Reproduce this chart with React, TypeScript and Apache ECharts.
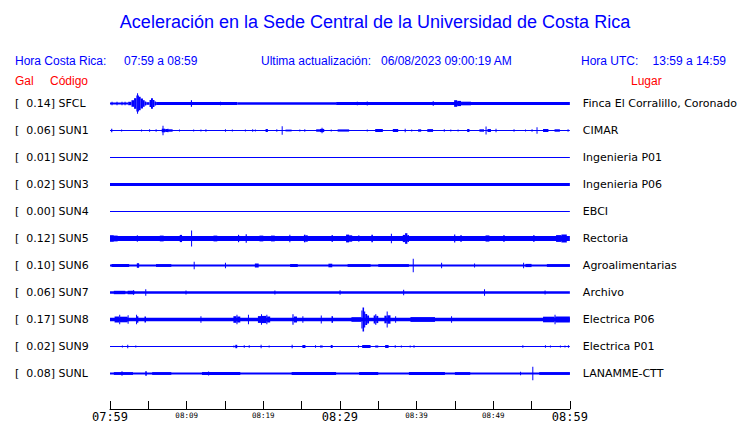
import React, { useEffect, useRef } from 'react';
import * as echarts from 'echarts';

// ---- Data ----
const codes = ['SFCL', 'SUN1', 'SUN2', 'SUN3', 'SUN4', 'SUN5', 'SUN6', 'SUN7', 'SUN8', 'SUN9', 'SUNL'];
const galValues = ['0.14', '0.06', '0.01', '0.02', '0.00', '0.12', '0.10', '0.06', '0.17', '0.02', '0.08'];
const places = [
  'Finca El Corralillo, Coronado', 'CIMAR', 'Ingenieria P01', 'Ingenieria P06', 'EBCI', 'Rectoria',
  'Agroalimentarias', 'Archivo', 'Electrica P06', 'Electrica P01', 'LANAMME-CTT',
];
const timeLabels = ['07:59', '08:09', '08:19', '08:29', '08:39', '08:49', '08:59'];
const majorTimeLabels = ['07:59', '08:29', '08:59'];

// Trace envelopes: [start minute, end minute, half amplitude]
type Seg = [number, number, number];
const traceSFCL: Seg[] = [
  [0, 2.37, 0.9], [0.2, 0.3, 1.7], [0.85, 0.95, 1.7], [1.5, 1.6, 1.7], [1.9, 2.0, 1.7],
  [2.37, 2.8, 1.7], [2.8, 3.14, 3.3], [3.14, 3.44, 5.3], [3.44, 3.53, 8], [3.53, 3.66, 10.3],
  [3.66, 3.74, 8], [3.74, 4.0, 6.7], [4.0, 4.3, 5], [4.3, 4.52, 3.3], [4.52, 4.73, 2],
  [4.73, 5.16, 1.3], [5.16, 5.35, 3.5], [5.35, 5.6, 5.2], [5.6, 5.8, 3.5], [5.8, 6.02, 2],
  [6.02, 16.6, 1.5], [16.6, 29.5, 1.2], [29.5, 60, 1.5],
  [10.55, 10.7, 3.3], [14.35, 14.45, 1.8], [32.2, 32.35, 1.8], [33.5, 33.6, 2],
  [42.1, 42.25, 2.3], [44.9, 45.3, 3.3], [45.3, 45.8, 2.6], [45.8, 47.1, 1.8],
];
const traceSUN1: Seg[] = [
  [0, 60, 0.5],
  [0.15, 0.3, 1.7], [1.45, 1.55, 1], [4.05, 4.15, 1], [5.1, 5.2, 1.3], [5.95, 6.05, 1.3],
  [6.75, 7.2, 1.8], [7.2, 7.6, 1.5], [7.6, 8.17, 1.2], [6.85, 6.95, 4.7], [7.5, 7.6, 1.7],
  [9.0, 9.1, 1], [10.85, 10.95, 1],
  [11.8, 11.9, 1], [12.45, 12.55, 1.3], [15.0, 15.1, 1.3], [15.9, 16.0, 1], [17.6, 17.7, 1],
  [18.55, 18.65, 1.3], [18.9, 19.0, 1], [20.3, 20.6, 1.5], [21.7, 21.8, 1.3], [22.4, 22.5, 4.3],
  [22.9, 23.7, 0.9], [24.7, 24.8, 1], [25.35, 25.45, 1.3], [26.9, 27.4, 1.2], [27.4, 27.95, 1.6],
  [27.6, 27.7, 2.7],
  [28.8, 28.9, 1], [29.7, 31.2, 1.1], [33.5, 33.6, 1], [34.6, 35.6, 1.5], [36.9, 37.6, 1.5],
  [38.45, 38.55, 1.7], [39.3, 39.4, 1], [40.2, 40.6, 1.2], [41.4, 42.15, 1.4], [43.55, 43.65, 1.3],
  [44.4, 44.5, 1], [45.35, 45.45, 1], [46.6, 46.9, 1.5], [48.2, 48.8, 1.2], [49.0, 49.1, 4],
  [49.25, 49.7, 1.5], [50.3, 50.4, 1.7], [52.65, 52.75, 1.3], [54.15, 54.25, 1], [55.0, 55.1, 1.3],
  [55.65, 55.75, 3.3], [56.5, 57.2, 1.5], [58.0, 58.7, 1.2], [59.7, 59.8, 1.3],
];
const traceSUN2: Seg[] = [[0, 60, 0.5]];
const traceSUN3: Seg[] = [[0, 60, 1.5]];
const traceSUN4: Seg[] = [[0, 60, 0.5]];
const traceSUN5: Seg[] = [
  [0, 60, 2.4],
  [0.0, 0.5, 3.3], [0.5, 1.0, 2.9], [3.5, 3.6, 3.3], [6.5, 7.0, 2.9], [9.1, 9.4, 3.6], [10.58, 10.68, 8],
  [13.5, 14.0, 2.9], [16.7, 16.85, 3.7], [17.7, 17.85, 4.3], [19.5, 20.0, 2.9], [21.0, 21.5, 2.9],
  [23.4, 23.5, 3.7], [25.3, 25.5, 3.8], [25.5, 25.8, 3.2], [28.9, 29.1, 3.3], [30.8, 31.2, 3.9],
  [31.2, 31.6, 3.2], [32.4, 32.5, 3.3],
  [34.1, 34.3, 3.7], [36.65, 36.75, 4.7], [38.2, 38.5, 3.6], [38.5, 38.8, 5.3], [38.8, 39.0, 3.6],
  [44.9, 45.05, 4], [45.7, 45.9, 3.3],
  [49.0, 49.5, 3.1], [51.3, 51.5, 3.3], [55.2, 55.4, 3.3], [58.2, 58.9, 3.4], [58.9, 59.6, 4.0],
];
const traceSUN6: Seg[] = [
  [0, 60, 1.0],
  [0.2, 2.5, 1.5], [3.5, 3.8, 2.3], [6.0, 8.0, 1.4], [10.92, 11.02, 3.7], [15.0, 15.1, 2.7],
  [18.9, 19.4, 2.0], [23.5, 24.5, 1.5], [28.5, 29.0, 1.8], [31, 34, 1.4], [35, 39, 1.4],
  [39.5, 39.6, 6.7], [43.2, 43.3, 2.7], [47.5, 47.6, 2], [53.9, 54.0, 2.7], [54.2, 55.0, 1.6],
  [57, 60, 1.4],
];
const traceSUN7: Seg[] = [
  [0, 60, 1.3],
  [0.5, 2.0, 1.7], [2.3, 3.2, 1.8], [3.0, 3.1, 2.2], [4.6, 4.7, 3.3], [9.85, 9.95, 2],
  [21.45, 21.55, 2], [29.95, 30.05, 2.3], [38.25, 38.35, 2.7], [48.8, 48.9, 3.3], [56.7, 56.8, 2],
];
const traceSUN8: Seg[] = [
  [0, 60, 1.8],
  [0.6, 1.2, 3.0], [1.2, 1.3, 4.7], [1.3, 2.3, 2.8], [2.3, 2.4, 4.3], [3.4, 3.5, 4.7], [3.5, 3.7, 3.2],
  [4.5, 4.7, 3.0],
  [11.8, 11.9, 3.3], [16.1, 16.5, 3.3], [16.5, 16.6, 4.7], [16.6, 17.0, 3.0], [18.0, 18.1, 4.7],
  [19.3, 19.7, 3.4], [19.7, 19.8, 5.3], [19.8, 20.4, 3.6], [20.4, 20.5, 4.8], [20.5, 20.9, 3.0],
  [23.8, 23.95, 5.3], [24.0, 24.4, 3.0],
  [25.1, 25.2, 3.3], [27.5, 27.6, 4], [28.9, 29.1, 3.3], [31.5, 32.8, 2.3], [32.8, 32.95, 9],
  [32.95, 33.15, 12], [33.15, 33.3, 8], [33.3, 33.55, 5.5], [33.55, 33.8, 4.0], [34.4, 34.6, 4.0],
  [34.6, 34.75, 5.2], [34.75, 35.0, 3.6], [35.8, 36.1, 3.8], [36.1, 36.2, 8], [36.2, 36.6, 4.2],
  [37.2, 37.3, 3.3],
  [39.2, 42.4, 2.4], [44.5, 44.6, 3.3], [56.5, 58.0, 2.8], [58.0, 58.1, 4.7], [58.1, 60, 3.0],
];
const traceSUN9: Seg[] = [
  [0, 60, 0.6],
  [1.55, 1.65, 1], [2.25, 2.35, 1.7], [3.3, 3.4, 1], [16.1, 16.2, 1], [16.35, 16.6, 1.7],
  [17.45, 17.55, 1.3], [18.1, 18.2, 1.3], [19.65, 19.75, 1.7], [20.7, 20.8, 1], [23.7, 23.8, 1.7],
  [25.1, 25.5, 1.5], [26.75, 26.85, 1.3], [27.4, 27.75, 1], [28.8, 29.05, 1.5], [32.35, 32.45, 1.3],
  [32.9, 34.0, 1.5], [34.6, 35.0, 1], [35.9, 36.35, 1.5], [37.15, 37.25, 1.3], [37.95, 38.05, 1],
  [39.1, 39.2, 1], [39.6, 39.7, 1.3], [53.8, 53.9, 1.3], [56.75, 56.85, 1.3], [57.4, 57.5, 1],
  [58.7, 58.8, 1], [59.3, 59.4, 1], [59.75, 59.85, 1.3],
];
const traceSUNL: Seg[] = [
  [0, 60, 1.0],
  [0.5, 3.0, 1.4], [1.5, 1.6, 2.3], [4.6, 4.8, 2.3], [5.5, 8.0, 1.4], [12, 17, 1.4],
  [12.8, 12.9, 2], [23.7, 29.5, 1.6], [32.5, 35.0, 1.5], [39, 43.7, 1.6], [45, 47, 1.4],
  [53.5, 53.6, 1.7], [55.1, 55.2, 6.7], [56, 60, 1.4],
];
const traces: Seg[][] = [
  traceSFCL, traceSUN1, traceSUN2, traceSUN3, traceSUN4, traceSUN5,
  traceSUN6, traceSUN7, traceSUN8, traceSUN9, traceSUNL,
];

const AMP_UNIT = 1 / 27; // amplitude units per row spacing
const BLUE = '#0000ff';

export default function App() {
  const ref = useRef<HTMLDivElement>(null);
  useEffect(() => {
    document.body.style.margin = '0';
    const chart = echarts.init(ref.current!, null, { renderer: 'svg' });
    const n = codes.length;
    const series = traces.map((tr, i) => {
      const row = n - 1 - i;
      return {
        type: 'custom',
        xAxisIndex: 0,
        yAxisIndex: 0,
        data: tr,
        encode: { x: [0, 1], y: 2 },
        silent: true,
        renderItem: (params: any, api: any) => {
          const s = api.value(0);
          const e = api.value(1);
          const a = api.value(2);
          const p0 = api.coord([s, row]);
          const p1 = api.coord([e, row]);
          const h = api.size([0, a * AMP_UNIT])[1];
          const w = Math.max(1, p1[0] - p0[0]);
          return {
            type: 'rect',
            shape: { x: p0[0], y: p0[1] - h, width: w, height: 2 * h },
            style: { fill: BLUE },
          };
        },
      };
    });
    const hdr = '12px "Liberation Sans", Arial, sans-serif';
    const txt = (x: number, y: number, text: string, fill: string, font: string, align = 'left') => ({
      type: 'text', x, y,
      style: { text, fill, font, textAlign: align, textVerticalAlign: 'middle' },
    });
    chart.setOption({
      animation: false,
      backgroundColor: '#ffffff',
      grid: { left: 110, width: 464, top: 90, height: 297 },
      xAxis: {
        type: 'value', min: 0, max: 60, interval: 5, position: 'bottom', offset: 22,
        axisLine: { onZero: false, lineStyle: { color: '#000', width: 1 } },
        axisTick: { inside: true, length: 8, lineStyle: { color: '#000' } },
        splitLine: { show: false },
        axisLabel: {
          margin: 2, showMinLabel: true, showMaxLabel: true, hideOverlap: false,
          formatter: (v: number) => {
            if (Math.round(v) % 10 !== 0) return '';
            const t = timeLabels[Math.round(v) / 10];
            return majorTimeLabels.includes(t) ? `{big|${t}}` : `{small|${t}}`;
          },
          rich: {
            big: { fontSize: 12, fontFamily: '"DejaVu Sans Mono", monospace', color: '#000' },
            small: { fontSize: 7.5, fontFamily: '"DejaVu Sans Mono", monospace', color: '#000' },
          },
        },
      },
      yAxis: [
        { type: 'value', min: -0.5, max: 10.5, show: false },
        {
          type: 'category', data: codes, inverse: true, position: 'left',
          axisLine: { show: false }, axisTick: { show: false },
          axisLabel: {
            align: 'left', margin: 95, color: '#000', fontSize: 11,
            fontFamily: '"DejaVu Sans", sans-serif',
            formatter: (v: string, idx: number) => `[  ${galValues[idx]}] ${v}`,
          },
        },
        {
          type: 'category', data: places, inverse: true, position: 'right', offset: 5,
          axisLine: { show: false }, axisTick: { show: false },
          axisLabel: {
            align: 'left', margin: 8, color: '#000', fontSize: 11,
            fontFamily: '"DejaVu Sans", sans-serif',
          },
        },
      ],
      graphic: [
        txt(375, 22, 'Aceleración en la Sede Central de la Universidad de Costa Rica', BLUE,
          '18px "Liberation Sans", Arial, sans-serif', 'center'),
        txt(15, 61, 'Hora Costa Rica:', BLUE, hdr),
        txt(124, 61, '07:59 a 08:59', BLUE, hdr),
        txt(261, 61, 'Ultima actualización:', BLUE, hdr),
        txt(381, 61, '06/08/2023 09:00:19 AM', BLUE, hdr),
        txt(581, 61, 'Hora UTC:', BLUE, hdr),
        txt(726, 61, '13:59 a 14:59', BLUE, hdr, 'right'),
        txt(15, 81, 'Gal', '#ff0000', hdr),
        txt(50, 81, 'Código', '#ff0000', hdr),
        txt(631, 81, 'Lugar', '#ff0000', hdr),
      ],
      series,
    } as any);
    return () => chart.dispose();
  }, []);
  return <div ref={ref} style={{ width: 740, height: 423 }} />;
}
